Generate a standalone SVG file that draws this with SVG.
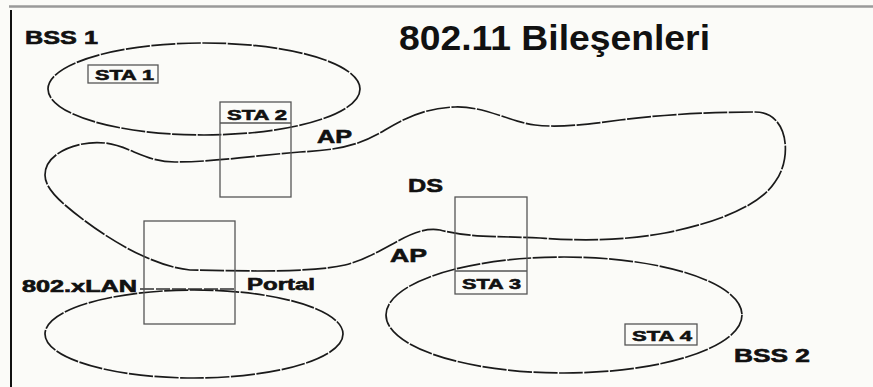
<svg xmlns="http://www.w3.org/2000/svg" width="873" height="387" viewBox="0 0 873 387">
<style>
  .lbl { font-family: "Liberation Sans", Arial, sans-serif; font-weight: bold; fill: #111; stroke: #111; stroke-width: 0.6; }
  .ttl { font-family: "Liberation Sans", Arial, sans-serif; font-weight: bold; fill: #111; font-size: 35px; }
  .sta { font-size: 15px; }
  .big { font-size: 19px; }
  .area { fill: none; stroke: #1a1a1a; stroke-width: 1.7; stroke-dasharray: 24 1.5; }
  .box { fill: none; stroke: #555; stroke-width: 1.3; }
</style>
<rect x="0" y="0" width="873" height="387" fill="#fbfbf8"/>
<line x1="9" y1="6.5" x2="873" y2="6.5" stroke="#9a9a9a" stroke-width="2.5"/>
<line x1="11" y1="10" x2="11" y2="387" stroke="#111" stroke-width="2"/>

<text class="ttl" x="399" y="50" textLength="311" lengthAdjust="spacingAndGlyphs">802.11 Bileşenleri</text>

<g id="connectors">
  <line x1="140" y1="289" x2="235" y2="289" stroke="#333" stroke-width="1.5" stroke-dasharray="14 2"/>
</g>

<g id="bss1">
  <ellipse class="area" cx="204" cy="89" rx="156" ry="46"/>
  <text class="lbl big" x="25" y="44" textLength="73" lengthAdjust="spacingAndGlyphs">BSS 1</text>
</g>

<g id="ds">
  <path class="area" d="M 45,175 C 45,152 80,140 105,143 C 130,146 145,162 175,162 C 215,162 260,155 300,152 C 340,150 360,145 385,130 C 405,118 425,108 455,107 C 485,106 510,122 535,125 C 560,128 590,124 620,120 C 650,116 700,112 755,112 C 790,112 792,160 775,182 C 760,205 720,222 665,233 C 620,241 580,241 540,238 C 500,236 470,238 440,230 C 410,225 385,255 345,265 C 310,273 240,271 190,270 C 150,266 100,235 65,205 C 50,192 45,183 45,175 Z"/>
  <text class="lbl big" x="408" y="192" textLength="35" lengthAdjust="spacingAndGlyphs">DS</text>
</g>

<g id="bss2">
  <ellipse class="area" cx="564" cy="315" rx="178" ry="58"/>
  <text class="lbl big" x="734" y="362" textLength="76" lengthAdjust="spacingAndGlyphs">BSS 2</text>
</g>

<g id="lan">
  <ellipse class="area" cx="194" cy="334" rx="149" ry="44"/>
  <text class="lbl" x="22" y="292" font-size="16" textLength="115" lengthAdjust="spacingAndGlyphs">802.xLAN</text>
</g>

<g id="sta1">
  <rect class="box" x="88" y="65" width="70" height="18"/>
  <text class="lbl sta" x="95" y="80" textLength="59" lengthAdjust="spacingAndGlyphs">STA 1</text>
</g>

<g id="sta2">
  <rect class="box" x="220" y="102" width="71" height="95"/>
  <line class="box" x1="220" y1="123" x2="291" y2="123"/>
  <text class="lbl sta" x="227" y="120" textLength="60" lengthAdjust="spacingAndGlyphs">STA 2</text>
  <text class="lbl big" x="317" y="143" textLength="35" lengthAdjust="spacingAndGlyphs">AP</text>
</g>

<g id="sta3">
  <rect class="box" x="455" y="197" width="72" height="97"/>
  <line class="box" x1="455" y1="271" x2="527" y2="271"/>
  <text class="lbl sta" x="462" y="289" textLength="59" lengthAdjust="spacingAndGlyphs">STA 3</text>
  <text class="lbl big" x="390" y="262" textLength="37" lengthAdjust="spacingAndGlyphs">AP</text>
</g>

<g id="sta4">
  <rect class="box" x="625" y="324" width="72" height="21"/>
  <text class="lbl sta" x="632" y="341" textLength="60" lengthAdjust="spacingAndGlyphs">STA 4</text>
</g>

<g id="portal">
  <rect class="box" x="144" y="221" width="91" height="103"/>
  <text class="lbl" x="247" y="290" font-size="16" textLength="68" lengthAdjust="spacingAndGlyphs">Portal</text>
</g>
</svg>
